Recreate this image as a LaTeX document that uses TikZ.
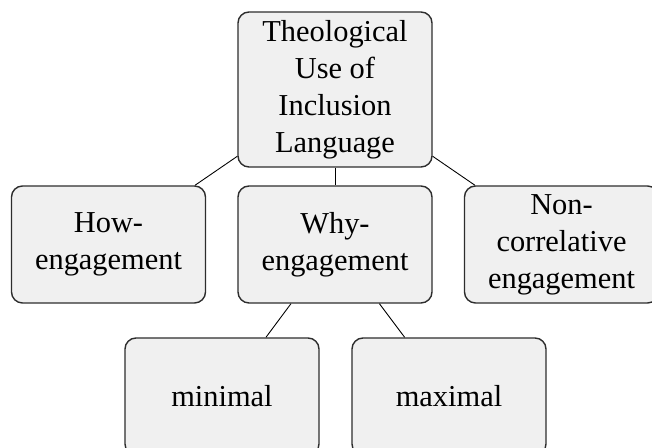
\documentclass[tikz,border=0pt]{standalone}
\usepackage{fontspec}
\setmainfont{Liberation Serif}
\usepackage{tikz}
\usetikzlibrary{positioning}
\definecolor{boxfill}{RGB}{240,240,240}
\definecolor{boxline}{RGB}{45,45,45}

\begin{document}
\begin{tikzpicture}[
    box/.style={draw=boxline,fill=boxfill,line width=0.8pt,rounded corners=0.22cm,
      minimum width=3.88cm,minimum height=2.34cm,align=center,
      font=\fontsize{17.3}{21}\selectfont},
    link/.style={black,line width=0.5pt}]
        \useasboundingbox (0,0) rectangle (13.04,8.96);
        \node[box,minimum height=3.1cm] (root) at (6.70,7.17) {Theological\\Use of\\Inclusion\\Language};
        \node[box] (how) at (2.17,4.07) {How-\\engagement};
        \node[box] (why) at (6.70,4.07) {Why-\\engagement};
        \node[box] (non) at (11.23,4.07) {Non-\\correlative\\engagement};
        \node[box] (min) at (4.44,1.03) {minimal};
        \node[box] (max) at (8.98,1.03) {maximal};
        \foreach \child in {how,why,non}
            \draw[link] (root) -- (\child);
        \draw[link] (why) -- (min);
        \draw[link] (why) -- (max);
      \end{tikzpicture}
\end{document}
